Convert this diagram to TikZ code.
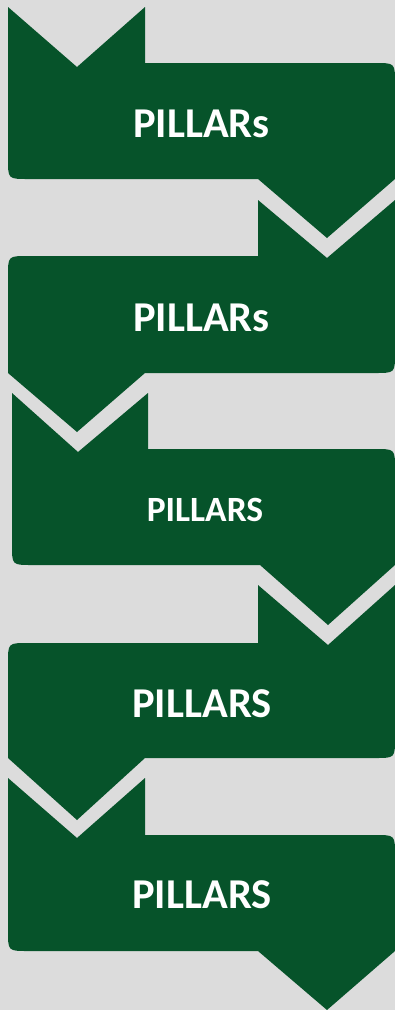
\documentclass[tikz,border=0pt]{standalone}
\usepackage{fontspec}
\setmainfont{Carlito}
\definecolor{pgreen}{HTML}{06532A}
\definecolor{bggray}{HTML}{DCDCDC}
\tikzset{
  pillar/.style={fill=pgreen, draw=none},
  lbl/.style={text=white, font=\bfseries\fontsize{42.5}{50}\selectfont, anchor=base, inner sep=0pt},
  lblsmall/.style={lbl, font=\bfseries\fontsize{35.5}{42}\selectfont}
}
\begin{document}
\begin{tikzpicture}[x=1pt,y=-1pt]
\fill[bggray] (0,0) rectangle (395,1010);
\useasboundingbox (0,0) rectangle (395,1010);
% shape 1
\path[pillar] (8,7) -- (77,67) -- (145,7) -- (145,63) -- (375,63) .. controls (395,63) .. (395,83) -- (395,179) -- (327,238) -- (258,179) -- (28,179) .. controls (8,179) .. (8,159) -- cycle;
% shape 2
\path[pillar] (258,200) -- (327,258) -- (395,200) -- (395,353) .. controls (395,373) .. (375,373) -- (145,373) -- (77,432) -- (8,373) -- (8,276) .. controls (8,256) .. (28,256) -- (258,256) -- cycle;
% shape 3
\path[pillar] (12,393) -- (78,452) -- (148,393) -- (148,449) -- (375,449) .. controls (395,449) .. (395,469) -- (395,565) -- (328,625) -- (260,565) -- (32,565) .. controls (12,565) .. (12,545) -- cycle;
% shape 4
\path[pillar] (258,585) -- (328,645) -- (395,585) -- (395,738) .. controls (395,758) .. (375,758) -- (145,758) -- (77,820) -- (8,758) -- (8,663) .. controls (8,643) .. (28,643) -- (258,643) -- cycle;
% shape 5
\path[pillar] (8,778) -- (77,838) -- (145,778) -- (145,835) -- (375,835) .. controls (395,835) .. (395,855) -- (395,951) -- (327,1010) -- (258,951) -- (28,951) .. controls (8,951) .. (8,931) -- cycle;
% labels
\node[lbl] (t1) at (201.5,137) {PILLARs};
\node[lbl] (t2) at (201.5,331) {PILLARs};
\node[lblsmall] (t3) at (205,521) {PILLARS};
\node[lbl] (t4) at (202,717) {PILLARS};
\node[lbl] (t5) at (202,908) {PILLARS};
\end{tikzpicture}
\end{document}
